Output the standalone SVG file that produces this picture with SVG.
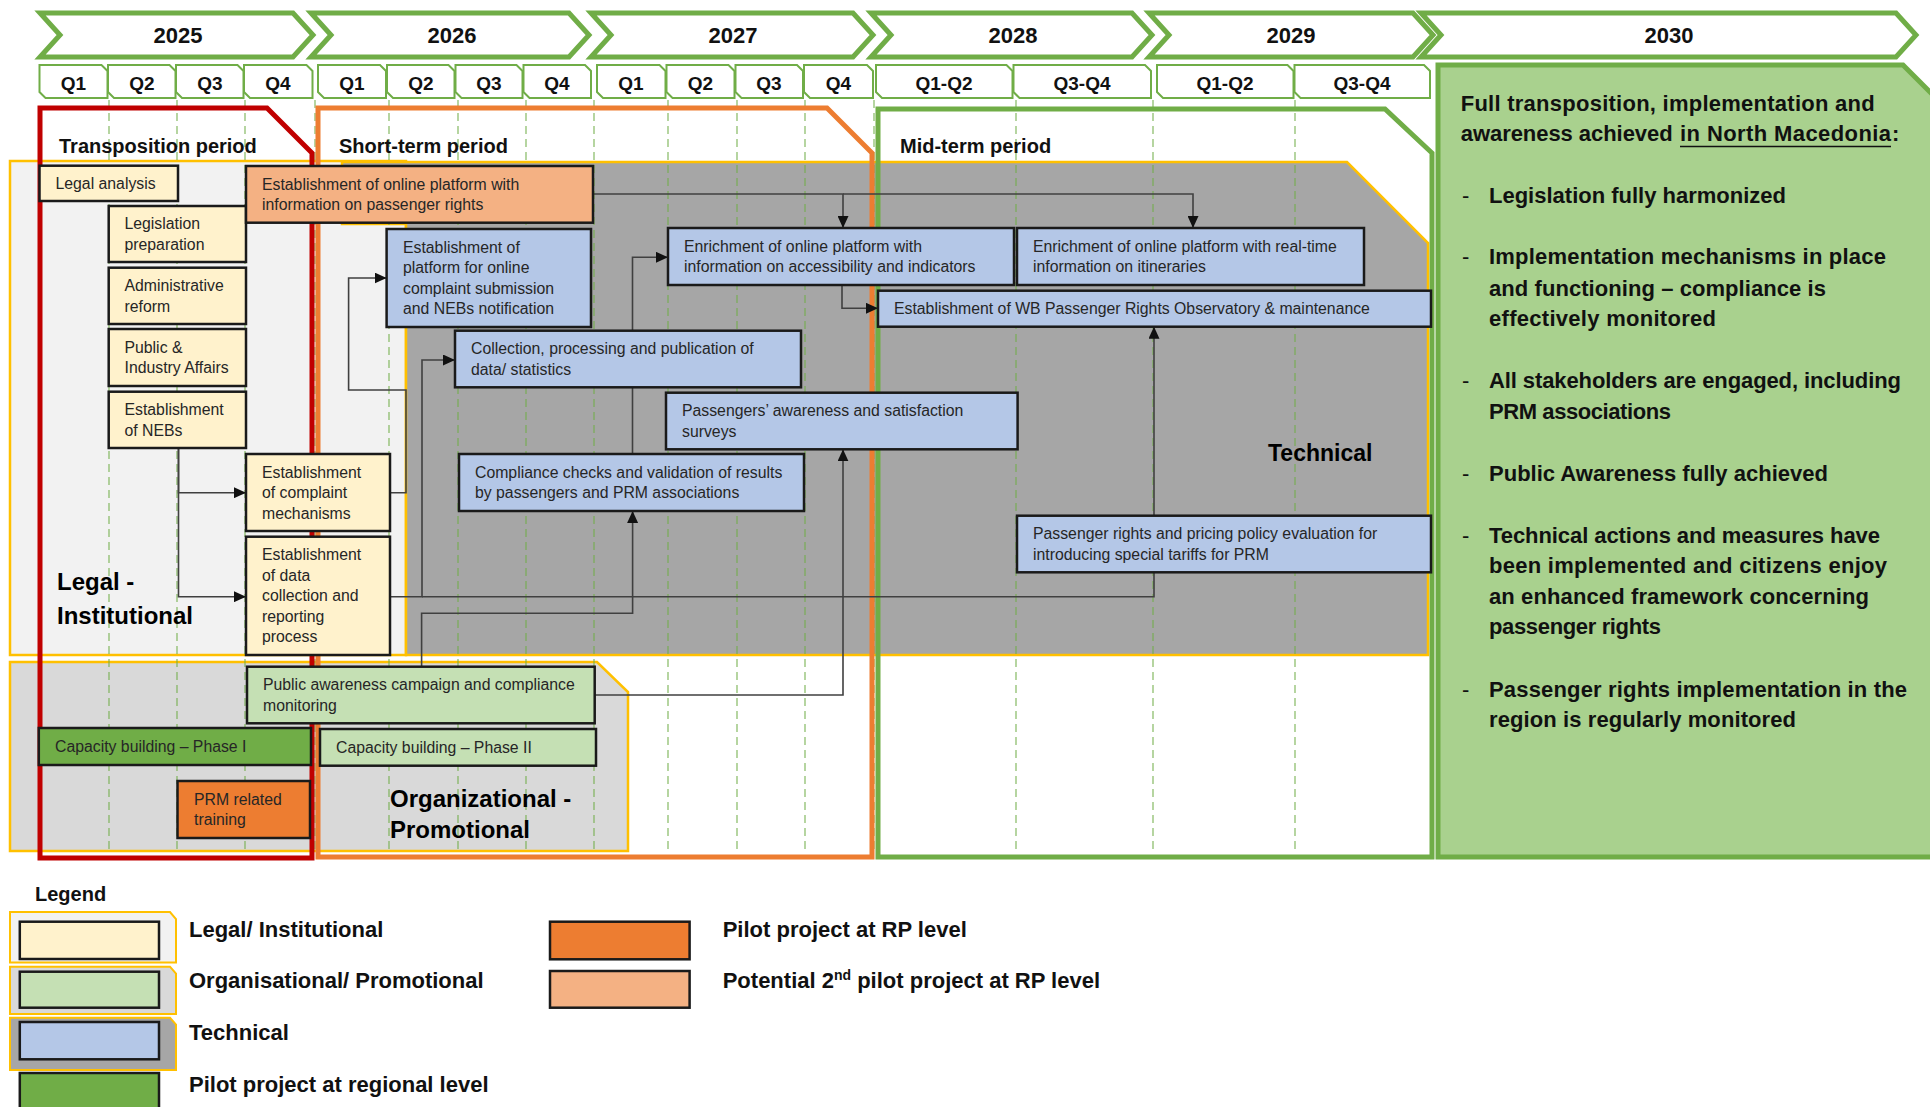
<svg xmlns="http://www.w3.org/2000/svg" width="1930" height="1107" viewBox="0 0 1930 1107">
<defs>
<style>
.yr{fill:#fff;stroke:#70AD47;stroke-width:5;stroke-linejoin:miter}
.q{fill:#fff;stroke:#70AD47;stroke-width:2}
.yt{font-family:'Liberation Sans',Arial,sans-serif;font-weight:bold;font-size:22px;text-anchor:middle;fill:#111}
.qt{font-family:'Liberation Sans',Arial,sans-serif;font-weight:bold;font-size:19px;text-anchor:middle;fill:#111}
.grid{stroke:#70AD47;stroke-width:1.2;stroke-dasharray:8 5;fill:none;opacity:0.85}
.reg{stroke:#FFC000;stroke-width:2.5}
.frame{fill:none;stroke-width:5;stroke-linejoin:miter}
.ptitle{font-family:'Liberation Sans',Arial,sans-serif;font-weight:bold;font-size:20px;fill:#111}
.ctitle{font-family:'Liberation Sans',Arial,sans-serif;font-weight:bold;font-size:24px;fill:#000}
.box{stroke:#1a1a1a;stroke-width:2.5}
.legal{fill:#FFF2CC}
.org{fill:#C5E0B4}
.tech{fill:#B4C7E7}
.pilot{fill:#ED7D31}
.pilot2{fill:#F4B183}
.reggreen{fill:#70AD47}
.t{font-family:'Liberation Sans',Arial,sans-serif;font-size:15.8px;fill:#262626}
.conn{fill:none;stroke:#404040;stroke-width:1.6}
.out{font-family:'Liberation Sans',Arial,sans-serif;font-weight:bold;font-size:22px;fill:#111}
.dash{font-family:'Liberation Sans',Arial,sans-serif;font-size:22px;fill:#111}
.lgt{font-family:'Liberation Sans',Arial,sans-serif;font-weight:bold;font-size:22px;fill:#111}
</style>
<marker id="arr" markerWidth="12" markerHeight="11" refX="12" refY="5.5" orient="auto" markerUnits="userSpaceOnUse">
<path d="M0,0 L12,5.5 L0,11 z" fill="#111"/>
</marker>
</defs>

<rect x="0" y="0" width="1930" height="1107" fill="#fff"/>

<g id="header">
<polygon class="yr" points="40,13 293,13 313,35 293,57 40,57 60,35"/>
<polygon class="yr" points="311,13 569,13 589,35 569,57 311,57 331,35"/>
<polygon class="yr" points="591,13 853,13 873,35 853,57 591,57 611,35"/>
<polygon class="yr" points="871,13 1132,13 1152,35 1132,57 871,57 891,35"/>
<polygon class="yr" points="1149,13 1413,13 1433,35 1413,57 1149,57 1169,35"/>
<polygon class="yr" points="1421,13 1896,13 1916,35 1896,57 1421,57 1441,35"/>
<text class="yt" x="178" y="43">2025</text>
<text class="yt" x="452" y="43">2026</text>
<text class="yt" x="733" y="43">2027</text>
<text class="yt" x="1013" y="43">2028</text>
<text class="yt" x="1291" y="43">2029</text>
<text class="yt" x="1669" y="43">2030</text>

<polygon class="q" points="39.5,65 101.5,65 107.5,71 107.5,98 45.5,98 39.5,92"/>
<polygon class="q" points="108,65 169.5,65 175.5,71 175.5,98 114,98 108,92"/>
<polygon class="q" points="176,65 237.5,65 243.5,71 243.5,98 182,98 176,92"/>
<polygon class="q" points="244,65 306.5,65 312.5,71 312.5,98 250,98 244,92"/>
<polygon class="q" points="318,65 380,65 386,71 386,98 324,98 318,92"/>
<polygon class="q" points="387,65 448.5,65 454.5,71 454.5,98 393,98 387,92"/>
<polygon class="q" points="455.5,65 516.5,65 522.5,71 522.5,98 461.5,98 455.5,92"/>
<polygon class="q" points="523.5,65 585,65 591,71 591,98 529.5,98 523.5,92"/>
<polygon class="q" points="597,65 659.5,65 665.5,71 665.5,98 603,98 597,92"/>
<polygon class="q" points="666.5,65 728.5,65 734.5,71 734.5,98 672.5,98 666.5,92"/>
<polygon class="q" points="735.5,65 797,65 803,71 803,98 741.5,98 735.5,92"/>
<polygon class="q" points="804,65 867,65 873,71 873,98 810,98 804,92"/>
<polygon class="q" points="876,65 1006.5,65 1012.5,71 1012.5,98 882,98 876,92"/>
<polygon class="q" points="1013.5,65 1145,65 1151,71 1151,98 1019.5,98 1013.5,92"/>
<polygon class="q" points="1157,65 1287.5,65 1293.5,71 1293.5,98 1163,98 1157,92"/>
<polygon class="q" points="1294.5,65 1424,65 1430,71 1430,98 1300.5,98 1294.5,92"/>
<text class="qt" x="73.5" y="90">Q1</text>
<text class="qt" x="142" y="90">Q2</text>
<text class="qt" x="210" y="90">Q3</text>
<text class="qt" x="278" y="90">Q4</text>
<text class="qt" x="352" y="90">Q1</text>
<text class="qt" x="421" y="90">Q2</text>
<text class="qt" x="489" y="90">Q3</text>
<text class="qt" x="557" y="90">Q4</text>
<text class="qt" x="631" y="90">Q1</text>
<text class="qt" x="700.5" y="90">Q2</text>
<text class="qt" x="769" y="90">Q3</text>
<text class="qt" x="838.5" y="90">Q4</text>
<text class="qt" x="944" y="90">Q1-Q2</text>
<text class="qt" x="1082" y="90">Q3-Q4</text>
<text class="qt" x="1225" y="90">Q1-Q2</text>
<text class="qt" x="1362" y="90">Q3-Q4</text>
</g>

<g id="regions">
<rect class="reg" x="10" y="161" width="396" height="494" fill="#F2F2F2"/>
<polygon class="reg" points="342,162 1347,162 1428,243 1428,655 406,655 406,224 342,224" fill="#A6A6A6"/>
<polygon class="reg" points="10,662 597,662 628,692 628,851 10,851" fill="#D9D9D9"/>
</g>

<g id="grid">
<line class="grid" x1="109" y1="100" x2="109" y2="850"/>
<line class="grid" x1="177" y1="100" x2="177" y2="850"/>
<line class="grid" x1="245" y1="100" x2="245" y2="850"/>
<line class="grid" x1="315" y1="100" x2="315" y2="850"/>
<line class="grid" x1="389" y1="100" x2="389" y2="850"/>
<line class="grid" x1="458" y1="100" x2="458" y2="850"/>
<line class="grid" x1="526" y1="100" x2="526" y2="850"/>
<line class="grid" x1="594" y1="100" x2="594" y2="850"/>
<line class="grid" x1="668" y1="100" x2="668" y2="850"/>
<line class="grid" x1="737" y1="100" x2="737" y2="850"/>
<line class="grid" x1="805" y1="100" x2="805" y2="850"/>
<line class="grid" x1="874" y1="100" x2="874" y2="850"/>
<line class="grid" x1="1016" y1="100" x2="1016" y2="850"/>
<line class="grid" x1="1153" y1="100" x2="1153" y2="850"/>
<line class="grid" x1="1295" y1="100" x2="1295" y2="850"/>
</g>

<g id="category-labels">
<text class="ctitle" x="57" y="590">Legal -</text>
<text class="ctitle" x="57" y="624">Institutional</text>
<text class="ctitle" x="390" y="807">Organizational -</text>
<text class="ctitle" x="390" y="838">Promotional</text>
<text class="ctitle" x="1268" y="461" style="font-size:23px">Technical</text>
</g>

<g id="periods">
<polygon class="frame" stroke="#C00000" points="40,108 267,108 312,153 312,858 40,858"/>
<polygon class="frame" stroke="#ED7D31" points="318,108 827,108 872,153 872,857 318,857"/>
<polygon class="frame" stroke="#70AD47" points="878,109 1385,109 1432,153 1432,857 878,857"/>
<text class="ptitle" x="59" y="153">Transposition period</text>
<text class="ptitle" x="339" y="153">Short-term period</text>
<text class="ptitle" x="900" y="153">Mid-term period</text>
</g>

<g id="connectors">
<path class="conn" d="M178.5,448 V492.7 H246" marker-end="url(#arr)"/>
<path class="conn" d="M178.5,448 V596.7 H246" marker-end="url(#arr)"/>
<path class="conn" d="M390,492.7 H406 V390 H348.6 V278 H386.6" marker-end="url(#arr)"/>
<path class="conn" d="M390,596.7 H422 V360 H455" marker-end="url(#arr)"/>
<path class="conn" d="M422,596.7 H1154 V572.3"/>
<path class="conn" d="M1154,515.7 V326.7" marker-end="url(#arr)"/>
<path class="conn" d="M421.6,666.7 V613.3 H632.6 V511" marker-end="url(#arr)"/>
<path class="conn" d="M594.7,695 H843 V449.3" marker-end="url(#arr)"/>
<path class="conn" d="M632.5,454 V257.3 H668" marker-end="url(#arr)"/>
<path class="conn" d="M593,194 H843 V228" marker-end="url(#arr)"/>
<path class="conn" d="M843,194 H1193 V228" marker-end="url(#arr)"/>
<path class="conn" d="M842,285 V308.3 H878" marker-end="url(#arr)"/>
</g>

<g id="nodes">
<g id="n-legal-analysis">
<rect class="box legal" x="39.5" y="165.7" width="138.5" height="35.3"/>
<text class="t" x="55.5" y="188.9">Legal analysis</text>
</g>
<g id="n-legislation-preparation">
<rect class="box legal" x="108.7" y="206" width="137.3" height="56"/>
<text class="t" x="124.5" y="229.3">Legislation</text>
<text class="t" x="124.5" y="249.8">preparation</text>
</g>
<g id="n-administrative-reform">
<rect class="box legal" x="108.7" y="267.7" width="137.3" height="56.3"/>
<text class="t" x="124.5" y="291.1">Administrative</text>
<text class="t" x="124.5" y="311.6">reform</text>
</g>
<g id="n-public-industry">
<rect class="box legal" x="108.7" y="329" width="137.3" height="57"/>
<text class="t" x="124.5" y="352.8">Public &amp;</text>
<text class="t" x="124.5" y="373.3">Industry Affairs</text>
</g>
<g id="n-nebs">
<rect class="box legal" x="108.7" y="391.7" width="137.3" height="56.3"/>
<text class="t" x="124.5" y="415.1">Establishment</text>
<text class="t" x="124.5" y="435.6">of NEBs</text>
</g>
<g id="n-complaint-mechanisms">
<rect class="box legal" x="246" y="454" width="144" height="77"/>
<text class="t" x="262" y="477.5">Establishment</text>
<text class="t" x="262" y="498">of complaint</text>
<text class="t" x="262" y="518.5">mechanisms</text>
</g>
<g id="n-data-collection">
<rect class="box legal" x="246" y="536.7" width="144" height="118.3"/>
<text class="t" x="262" y="560.4">Establishment</text>
<text class="t" x="262" y="580.9">of data</text>
<text class="t" x="262" y="601.4">collection and</text>
<text class="t" x="262" y="621.9">reporting</text>
<text class="t" x="262" y="642.4">process</text>
</g>
<g id="n-online-platform">
<rect class="box pilot2" x="246" y="166" width="347" height="56.7"/>
<text class="t" x="262" y="189.6">Establishment of online platform with</text>
<text class="t" x="262" y="210.1">information on passenger rights</text>
</g>
<g id="n-complaint-platform">
<rect class="box tech" x="386.6" y="229" width="204.4" height="98"/>
<text class="t" x="403" y="252.8">Establishment of</text>
<text class="t" x="403" y="273.3">platform for online</text>
<text class="t" x="403" y="293.8">complaint submission</text>
<text class="t" x="403" y="314.3">and NEBs notification</text>
</g>
<g id="n-collection">
<rect class="box tech" x="455" y="330.7" width="346" height="56.6"/>
<text class="t" x="471" y="354.3">Collection, processing and publication of</text>
<text class="t" x="471" y="374.8">data/ statistics</text>
</g>
<g id="n-enrich-accessibility">
<rect class="box tech" x="668" y="228" width="346" height="57"/>
<text class="t" x="684" y="251.8">Enrichment of online platform with</text>
<text class="t" x="684" y="272.3">information on accessibility and indicators</text>
</g>
<g id="n-observatory">
<rect class="box tech" x="878" y="290.7" width="553" height="36"/>
<text class="t" x="894" y="314.2">Establishment of WB Passenger Rights Observatory &amp; maintenance</text>
</g>
<g id="n-enrich-realtime">
<rect class="box tech" x="1017" y="228" width="347" height="57"/>
<text class="t" x="1033" y="251.8">Enrichment of online platform with real-time</text>
<text class="t" x="1033" y="272.3">information on itineraries</text>
</g>
<g id="n-surveys">
<rect class="box tech" x="666" y="392.7" width="351.6" height="56.6"/>
<text class="t" x="682" y="416.3">Passengers’ awareness and satisfaction</text>
<text class="t" x="682" y="436.8">surveys</text>
</g>
<g id="n-compliance">
<rect class="box tech" x="459" y="454" width="345" height="57"/>
<text class="t" x="475" y="477.8">Compliance checks and validation of results</text>
<text class="t" x="475" y="498.3">by passengers and PRM associations</text>
</g>
<g id="n-pricing">
<rect class="box tech" x="1017" y="515.7" width="414" height="56.6"/>
<text class="t" x="1033" y="539.3">Passenger rights and pricing policy evaluation for</text>
<text class="t" x="1033" y="559.8">introducing special tariffs for PRM</text>
</g>
<g id="n-public-awareness">
<rect class="box org" x="247" y="666.7" width="347.7" height="56.6"/>
<text class="t" x="263" y="690.3">Public awareness campaign and compliance</text>
<text class="t" x="263" y="710.8">monitoring</text>
</g>
<g id="n-capacity-1">
<rect class="box reggreen" x="38.8" y="728" width="272.2" height="37"/>
<text class="t" x="55" y="752">Capacity building – Phase I</text>
</g>
<g id="n-capacity-2">
<rect class="box org" x="320" y="729" width="276" height="36.7"/>
<text class="t" x="336" y="752.9">Capacity building – Phase II</text>
</g>
<g id="n-prm-training">
<rect class="box pilot" x="177.5" y="781" width="132.5" height="57"/>
<text class="t" x="194" y="804.8">PRM related</text>
<text class="t" x="194" y="825.3">training</text>
</g>
</g>

<g id="n-outcome-2030">
<polygon points="1438,65 1903,65 1935,97 1935,857 1438,857" fill="#A9D18E" stroke="#70AD47" stroke-width="5"/>
<text class="out" x="1460.7" y="110.7" textLength="414" lengthAdjust="spacing">Full transposition, implementation and</text>
<text class="out" x="1460.7" y="141" textLength="212" lengthAdjust="spacing">awareness achieved</text>
<text class="out" x="1680" y="141" textLength="211" lengthAdjust="spacing">in North Macedonia</text>
<text class="out" x="1892" y="141">:</text>
<line x1="1680" y1="146.5" x2="1891" y2="146.5" stroke="#111" stroke-width="1.6"/>
<text class="dash" x="1462" y="203.3">-</text>
<text class="out" x="1489" y="203.3" textLength="297" lengthAdjust="spacing">Legislation fully harmonized</text>
<text class="dash" x="1462" y="264.3">-</text>
<text class="out" x="1489" y="264.3" textLength="397" lengthAdjust="spacing">Implementation mechanisms in place</text>
<text class="out" x="1489" y="295.7" textLength="337" lengthAdjust="spacing">and functioning – compliance is</text>
<text class="out" x="1489" y="325.7" textLength="227" lengthAdjust="spacing">effectively monitored</text>
<text class="dash" x="1462" y="388.3">-</text>
<text class="out" x="1489" y="388.3" textLength="412" lengthAdjust="spacing">All stakeholders are engaged, including</text>
<text class="out" x="1489" y="419" textLength="182" lengthAdjust="spacing">PRM associations</text>
<text class="dash" x="1462" y="481">-</text>
<text class="out" x="1489" y="481" textLength="339" lengthAdjust="spacing">Public Awareness fully achieved</text>
<text class="dash" x="1462" y="542.7">-</text>
<text class="out" x="1489" y="542.7" textLength="391" lengthAdjust="spacing">Technical actions and measures have</text>
<text class="out" x="1489" y="573.3" textLength="398" lengthAdjust="spacing">been implemented and citizens enjoy</text>
<text class="out" x="1489" y="604" textLength="380" lengthAdjust="spacing">an enhanced framework concerning</text>
<text class="out" x="1489" y="634.3" textLength="172" lengthAdjust="spacing">passenger rights</text>
<text class="dash" x="1462" y="696.7">-</text>
<text class="out" x="1489" y="696.7" textLength="418" lengthAdjust="spacing">Passenger rights implementation in the</text>
<text class="out" x="1489" y="726.7" textLength="307" lengthAdjust="spacing">region is regularly monitored</text>
</g>

<g id="legend">
<text class="ptitle" x="35" y="901">Legend</text>
<polygon points="10,912 170,912 176,919 176,962.5 10,962.5" fill="#F2F2F2" stroke="#FFC000" stroke-width="2"/>
<rect class="box legal" x="19.8" y="921.7" width="139.2" height="37.3"/>
<polygon points="10,966.7 170,966.7 176,973.7 176,1014 10,1014" fill="#D9D9D9" stroke="#FFC000" stroke-width="2"/>
<rect class="box org" x="19.8" y="971.7" width="139.2" height="36"/>
<polygon points="10,1017.7 170,1017.7 176,1024.7 176,1070 10,1070" fill="#A6A6A6" stroke="#FFC000" stroke-width="2"/>
<rect class="box tech" x="19.8" y="1022" width="139.2" height="37.3"/>
<rect class="box reggreen" x="19.8" y="1073" width="139.2" height="40"/>
<rect class="box pilot" x="550" y="921.7" width="139.6" height="37.6"/>
<rect class="box pilot2" x="550" y="971" width="139.6" height="36.7"/>
<text class="lgt" x="189" y="937">Legal/ Institutional</text>
<text class="lgt" x="189" y="988">Organisational/ Promotional</text>
<text class="lgt" x="189" y="1040">Technical</text>
<text class="lgt" x="189" y="1092">Pilot project at regional level</text>
<text class="lgt" x="722.7" y="937">Pilot project at RP level</text>
<text class="lgt" x="722.7" y="988">Potential 2<tspan dy="-8" style="font-size:14px">nd</tspan><tspan dy="8"> pilot project at RP level</tspan></text>
</g>
</svg>
